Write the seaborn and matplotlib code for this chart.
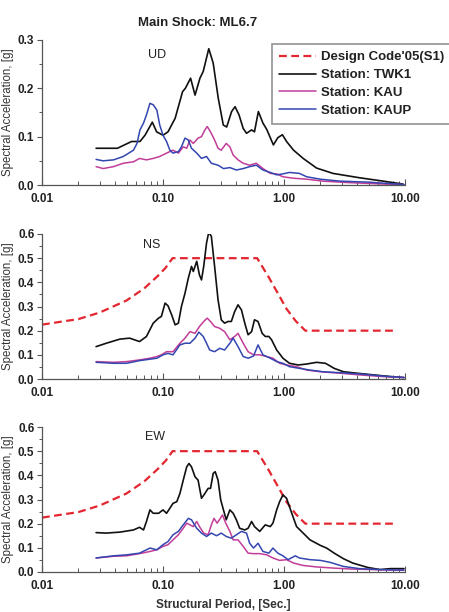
import numpy as np
import pandas as pd
import matplotlib
matplotlib.use("Agg")
import matplotlib.pyplot as plt
from matplotlib.ticker import FixedLocator, FixedFormatter, NullFormatter, LogLocator, MultipleLocator
import seaborn as sns

sns.set_style("ticks")
plt.rcParams['font.family'] = ['Liberation Sans', 'DejaVu Sans']

# ---------------- data ----------------
title = "Main Shock: ML6.7"
components = ["UD", "NS", "EW"]
series_names = ["Design Code'05(S1)", "Station: TWK1", "Station: KAU", "Station: KAUP"]
x_tick_values = [0.01, 0.1, 1.0, 10.0]
x_tick_labels = ["0.01", "0.10", "1.00", "10.00"]

code_T = [0.01, 0.02, 0.03, 0.05, 0.07, 0.09, 0.105, 0.12, 0.6, 0.75, 0.9, 1.05, 1.25, 1.5, 8.5]
code_sa = [0.225, 0.248, 0.275, 0.325, 0.375, 0.425, 0.46, 0.5, 0.5, 0.42, 0.35, 0.29, 0.24, 0.2, 0.2]

# UD
ud_twk1_T = [0.028, 0.042, 0.055, 0.0645, 0.071, 0.0816, 0.0886, 0.1, 0.11, 0.126, 0.145, 0.153, 0.169,
             0.184, 0.202, 0.215, 0.239, 0.26, 0.286, 0.315, 0.336, 0.369, 0.394, 0.425, 0.46, 0.49, 0.54,
             0.57, 0.614, 0.67, 0.72, 0.817, 0.89, 0.97, 1.05, 1.2, 1.44, 1.86, 2.54, 4.2, 6.6, 9.6]
ud_twk1_sa = [0.076, 0.076, 0.09, 0.09, 0.103, 0.13, 0.11, 0.103, 0.11, 0.138, 0.193, 0.2, 0.221,
              0.186, 0.221, 0.235, 0.282, 0.252, 0.18, 0.124, 0.12, 0.152, 0.162, 0.145, 0.117, 0.107, 0.114,
              0.11, 0.152, 0.128, 0.115, 0.083, 0.098, 0.104, 0.09, 0.072, 0.055, 0.035, 0.024, 0.015, 0.008, 0.002]
ud_kau_T = [0.028, 0.032, 0.039, 0.047, 0.057, 0.064, 0.073, 0.083, 0.094, 0.107, 0.121, 0.134, 0.147, 0.157,
            0.167, 0.178, 0.195, 0.208, 0.222, 0.232, 0.247, 0.267, 0.285, 0.303, 0.333, 0.357, 0.38, 0.417,
            0.46, 0.52, 0.59, 0.67, 0.77, 0.87, 0.98, 1.2, 1.54, 2.1, 3.4, 6.6, 9.8]
ud_kau_sa = [0.038, 0.034, 0.038, 0.045, 0.048, 0.055, 0.052, 0.055, 0.059, 0.066, 0.072, 0.066, 0.079, 0.076,
             0.093, 0.086, 0.097, 0.1, 0.114, 0.121, 0.11, 0.093, 0.076, 0.072, 0.086, 0.079, 0.062, 0.052,
             0.045, 0.041, 0.045, 0.034, 0.024, 0.023, 0.017, 0.014, 0.012, 0.008, 0.005, 0.002, 0.001]
ud_kaup_T = [0.028, 0.032, 0.039, 0.047, 0.057, 0.061, 0.0645, 0.069, 0.073, 0.078, 0.083, 0.089, 0.094, 0.1,
             0.107, 0.114, 0.121, 0.134, 0.142, 0.152, 0.162, 0.172, 0.19, 0.208, 0.229, 0.251, 0.285, 0.316,
             0.357, 0.404, 0.46, 0.52, 0.59, 0.67, 0.77, 0.87, 0.98, 1.11, 1.34, 1.54, 2.0, 2.9, 4.9, 9.8]
ud_kaup_sa = [0.053, 0.05, 0.052, 0.059, 0.072, 0.086, 0.114, 0.128, 0.145, 0.169, 0.166, 0.155, 0.124, 0.103,
              0.09, 0.072, 0.066, 0.069, 0.079, 0.097, 0.093, 0.076, 0.066, 0.055, 0.059, 0.045, 0.041, 0.034,
              0.036, 0.031, 0.034, 0.038, 0.041, 0.031, 0.026, 0.021, 0.023, 0.026, 0.024, 0.017, 0.012, 0.008, 0.006, 0.001]

# NS
ns_twk1_T = [0.028, 0.034, 0.044, 0.053, 0.064, 0.073, 0.083, 0.092, 0.097, 0.104, 0.11, 0.118, 0.126, 0.134,
             0.142, 0.152, 0.162, 0.172, 0.178, 0.19, 0.2, 0.208, 0.217, 0.229, 0.239, 0.251, 0.267, 0.285,
             0.303, 0.323, 0.344, 0.367, 0.391, 0.417, 0.445, 0.474, 0.505, 0.54, 0.57, 0.61, 0.66, 0.7, 0.75,
             0.79, 0.87, 0.98, 1.11, 1.31, 1.54, 1.86, 2.2, 2.6, 3.1, 4.0, 5.5, 7.6, 9.8]
ns_twk1_sa = [0.134, 0.148, 0.165, 0.169, 0.155, 0.176, 0.231, 0.252, 0.259, 0.314, 0.303, 0.265, 0.224, 0.231,
              0.3, 0.355, 0.418, 0.466, 0.445, 0.487, 0.431, 0.41, 0.466, 0.563, 0.608, 0.59, 0.466, 0.328,
              0.245, 0.231, 0.238, 0.238, 0.279, 0.307, 0.286, 0.231, 0.183, 0.196, 0.245, 0.238, 0.189, 0.176, 0.176,
              0.162, 0.12, 0.086, 0.065, 0.058, 0.062, 0.069, 0.065, 0.044, 0.03, 0.024, 0.017, 0.01, 0.006]
ns_kau_T = [0.028, 0.039, 0.05, 0.064, 0.078, 0.089, 0.097, 0.107, 0.121, 0.138, 0.152, 0.167, 0.184, 0.2,
            0.217, 0.232, 0.247, 0.267, 0.294, 0.323, 0.357, 0.391, 0.417, 0.46, 0.505, 0.56, 0.63, 0.72, 0.81,
            0.92, 1.05, 1.27, 1.54, 2.0, 2.9, 4.2, 6.6, 9.8]
ns_kau_sa = [0.072, 0.069, 0.072, 0.079, 0.086, 0.093, 0.1, 0.113, 0.113, 0.148, 0.169, 0.196, 0.189, 0.217,
             0.238, 0.252, 0.238, 0.217, 0.21, 0.196, 0.162, 0.176, 0.189, 0.148, 0.113, 0.1, 0.1, 0.093, 0.086,
             0.065, 0.058, 0.051, 0.037, 0.03, 0.024, 0.017, 0.01, 0.006]
ns_kaup_T = [0.028, 0.039, 0.05, 0.064, 0.078, 0.089, 0.1, 0.11, 0.121, 0.138, 0.152, 0.167, 0.184, 0.198,
             0.215, 0.229, 0.243, 0.267, 0.294, 0.323, 0.357, 0.38, 0.417, 0.46, 0.505, 0.56, 0.61, 0.67, 0.77,
             0.87, 0.98, 1.11, 1.34, 1.64, 2.1, 2.9, 4.2, 6.6, 9.8]
ns_kaup_sa = [0.069, 0.065, 0.065, 0.076, 0.082, 0.086, 0.1, 0.106, 0.1, 0.141, 0.148, 0.148, 0.169, 0.194,
              0.176, 0.148, 0.12, 0.113, 0.127, 0.12, 0.148, 0.169, 0.134, 0.093, 0.086, 0.095, 0.141, 0.1, 0.086,
              0.072, 0.065, 0.051, 0.044, 0.037, 0.03, 0.026, 0.021, 0.012, 0.006]

# EW
ew_twk1_T = [0.028, 0.034, 0.044, 0.057, 0.064, 0.069, 0.073, 0.078, 0.083, 0.092, 0.1, 0.107, 0.114, 0.121,
             0.13, 0.138, 0.147, 0.157, 0.164, 0.172, 0.184, 0.195, 0.208, 0.222, 0.236, 0.247, 0.26, 0.27,
             0.285, 0.3, 0.316, 0.333, 0.357, 0.38, 0.404, 0.43, 0.474, 0.505, 0.54, 0.57, 0.63, 0.7, 0.77,
             0.81, 0.87, 0.92, 0.98, 1.05, 1.11, 1.2, 1.27, 1.44, 1.64, 2.0, 2.25, 2.6, 3.1, 3.7, 4.9, 6.2, 7.6, 9.8]
ew_twk1_sa = [0.163, 0.161, 0.165, 0.174, 0.185, 0.174, 0.209, 0.257, 0.243, 0.243, 0.257, 0.243, 0.264, 0.284,
              0.291, 0.325, 0.38, 0.435, 0.449, 0.435, 0.394, 0.38, 0.305, 0.325, 0.346, 0.346, 0.408, 0.415,
              0.38, 0.298, 0.257, 0.216, 0.257, 0.243, 0.216, 0.181, 0.174, 0.181, 0.209, 0.188, 0.168, 0.195, 0.188,
              0.202, 0.257, 0.291, 0.319, 0.305, 0.27, 0.222, 0.188, 0.161, 0.133, 0.11, 0.099, 0.078, 0.055, 0.037,
              0.019, 0.01, 0.014, 0.014]
ew_kau_T = [0.028, 0.039, 0.05, 0.064, 0.078, 0.089, 0.1, 0.11, 0.121, 0.134, 0.147, 0.157, 0.167, 0.178, 0.19,
            0.2, 0.217, 0.236, 0.251, 0.264, 0.28, 0.294, 0.31, 0.33, 0.357, 0.38, 0.417, 0.46, 0.505, 0.56,
            0.63, 0.72, 0.81, 0.92, 1.05, 1.2, 1.44, 1.86, 2.6, 3.7, 5.5, 9.8]
ew_kau_sa = [0.058, 0.065, 0.067, 0.076, 0.085, 0.092, 0.106, 0.113, 0.133, 0.154, 0.181, 0.202, 0.195, 0.188,
             0.209, 0.188, 0.161, 0.154, 0.195, 0.222, 0.202, 0.218, 0.236, 0.202, 0.168, 0.133, 0.133, 0.106,
             0.078, 0.076, 0.076, 0.071, 0.058, 0.048, 0.051, 0.037, 0.027, 0.021, 0.016, 0.012, 0.01, 0.007]
ew_kaup_T = [0.028, 0.039, 0.05, 0.064, 0.078, 0.089, 0.1, 0.11, 0.121, 0.134, 0.147, 0.162, 0.172, 0.19, 0.208,
             0.229, 0.251, 0.277, 0.303, 0.333, 0.367, 0.404, 0.445, 0.49, 0.52, 0.56, 0.61, 0.67, 0.75, 0.81,
             0.89, 0.98, 1.08, 1.24, 1.34, 1.64, 2.0, 2.4, 3.1, 4.2, 6.2, 9.8]
ew_kaup_sa = [0.058, 0.067, 0.071, 0.078, 0.099, 0.092, 0.113, 0.126, 0.154, 0.168, 0.195, 0.222, 0.216, 0.181,
              0.161, 0.147, 0.161, 0.15, 0.161, 0.147, 0.14, 0.154, 0.168, 0.161, 0.119, 0.099, 0.119, 0.085,
              0.078, 0.099, 0.078, 0.067, 0.051, 0.067, 0.058, 0.051, 0.048, 0.04, 0.023, 0.014, 0.01, 0.008]

panel_data = {
    "UD": [None, (ud_twk1_T, ud_twk1_sa), (ud_kau_T, ud_kau_sa), (ud_kaup_T, ud_kaup_sa)],
    "NS": [(code_T, code_sa), (ns_twk1_T, ns_twk1_sa), (ns_kau_T, ns_kau_sa), (ns_kaup_T, ns_kaup_sa)],
    "EW": [(code_T, code_sa), (ew_twk1_T, ew_twk1_sa), (ew_kau_T, ew_kau_sa), (ew_kaup_T, ew_kaup_sa)],
}
y_max = {"UD": 0.3, "NS": 0.6, "EW": 0.6}
y_major = {"UD": 0.1, "NS": 0.1, "EW": 0.1}

# ---------------- styling ----------------
colors = ["#e3262f", "#111111", "#c13d98", "#3446b0"]
lws = [1.6, 1.2, 1.1, 1.1]

W, H = 449, 612
fig = plt.figure(figsize=(W / 100, H / 100), dpi=100)
panel_tops = [40, 234, 427]
label_pos = {"UD": (157, 55), "NS": (152, 245), "EW": (155, 437)}

axes = []
for comp, top in zip(components, panel_tops):
    ax = fig.add_axes([42 / W, 1 - (top + 145) / H, 363 / W, 145 / H])
    axes.append(ax)
    for i, (name, d) in enumerate(zip(series_names, panel_data[comp])):
        if d is None:
            # legend entry only
            ax.plot([], [], color=colors[i], lw=lws[i], ls=(0, (3.5, 2)), label=name)
            continue
        df = pd.DataFrame({"T": d[0], "Sa": d[1]})
        sns.lineplot(data=df, x="T", y="Sa", ax=ax, color=colors[i], lw=lws[i],
                     estimator=None, sort=False, label=name, legend=False,
                     linestyle=(0, (3.5, 2)) if i == 0 else "-")
    ax.set_xscale("log")
    ax.set_xlim(0.01, 10)
    ax.set_ylim(0, y_max[comp])
    ax.xaxis.set_major_locator(FixedLocator(x_tick_values))
    ax.xaxis.set_major_formatter(FixedFormatter(x_tick_labels))
    ax.xaxis.set_minor_locator(LogLocator(base=10, subs=np.arange(2, 10)))
    ax.xaxis.set_minor_formatter(NullFormatter())
    ax.yaxis.set_major_locator(MultipleLocator(y_major[comp]))
    ax.yaxis.set_minor_locator(MultipleLocator(y_major[comp] / 2))
    ax.yaxis.set_major_formatter(matplotlib.ticker.FormatStrFormatter("%.1f"))
    ax.tick_params(axis="x", which="major", direction="in", length=4, width=0.8, colors="#555555",
                   labelcolor="#222222", labelsize=8.5, pad=6)
    ax.tick_params(axis="x", which="minor", direction="in", length=3, width=0.7, colors="#555555")
    ax.tick_params(axis="y", which="major", direction="out", length=3.5, width=0.8, colors="#555555",
                   labelcolor="#222222", labelsize=8.5, pad=2)
    ax.tick_params(axis="y", which="minor", direction="out", length=2, width=0.7, colors="#555555")
    for lab in ax.get_xticklabels() + ax.get_yticklabels():
        lab.set_fontweight("bold")
    sns.despine(ax=ax)
    for s in ["left", "bottom"]:
        ax.spines[s].set_color("#555555")
        ax.spines[s].set_linewidth(0.9)
    ax.set_xlabel("")
    ax.set_ylabel("Spectral Acceleration, [g]", fontsize=8.3, color="#333333", labelpad=3)
    lx, ly = label_pos[comp]
    fig.text(lx / W, 1 - ly / H, comp, fontsize=9, ha="center", va="center", color="#222222")

axes[2].set_xlabel("Structural Period, [Sec.]", fontsize=8.5, fontweight="bold", color="#333333", labelpad=5)

fig.text(198 / W, 1 - 23 / H, title, fontsize=9.5, fontweight="bold", ha="center", va="center", color="#222222")

handles, labels = axes[0].get_legend_handles_labels()
leg = axes[0].legend(handles, labels, loc="upper left", bbox_to_anchor=(272 / W, 1 - 44 / H),
                     bbox_transform=fig.transFigure, frameon=True, fancybox=False, fontsize=9.5,
                     handlelength=2.8, handletextpad=0.4, labelspacing=0.42, borderpad=0.55,
                     borderaxespad=0)
leg.get_frame().set_edgecolor("#777777")
leg.get_frame().set_linewidth(1.2)
for t in leg.get_texts():
    t.set_fontweight("bold")
    t.set_color("#222222")

fig.savefig("out.png", dpi=100)
